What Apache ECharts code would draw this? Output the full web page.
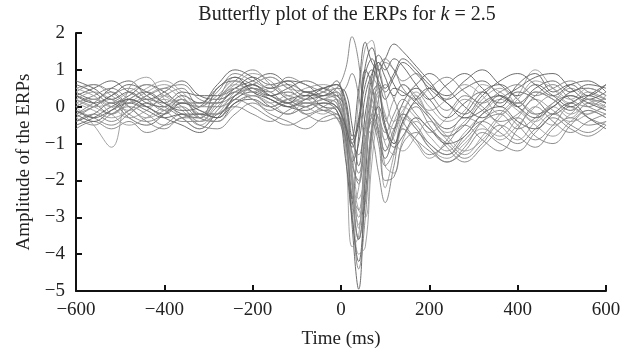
<!DOCTYPE html>
<html>
<head>
<meta charset="utf-8">
<script src="https://cdn.jsdelivr.net/npm/echarts@6/dist/echarts.min.js"></script>
<style>
  html, body { margin: 0; padding: 0; background: #fff; }
  #chart { width: 639px; height: 354px; }
</style>
</head>
<body>
<div id="chart"></div>
<script>
// time points (ms), denser around the response
const times = [-600, -560, -520, -480, -440, -400, -360, -320, -280, -240, -200, -160, -120, -80, -40, -10,
  10, 25, 40, 55, 70, 85, 100, 120, 140, 170, 200, 240, 280, 320, 360, 400, 440, 480, 520, 560, 600];

const xTicks = [-600, -400, -200, 0, 200, 400, 600];
const yTicks = [-5, -4, -3, -2, -1, 0, 1, 2];

// one array per channel
const ch01 = [0.3, 0.1, -0.2, 0.2, 0.4, 0.1, -0.2, -0.3, 0.5, 0.7, 0.5, 0.3, 0.4, 0.2, 0.3, 0.4, -0.5, -3.2, -4.95, -2.0, 0.3, 0.6, 0.2, 0.5, 0.4, 0.1, -0.3, -0.8, -0.5, 0.1, 0.3, 0.0, 0.4, 0.2, -0.1, 0.2, 0.1];
const ch02 = [-0.2, 0.0, 0.3, 0.5, 0.2, -0.1, 0.0, -0.3, 0.2, 0.8, 0.6, 0.4, 0.1, 0.3, 0.5, 0.2, -0.8, -2.8, -4.4, -3.0, -0.5, 0.4, -0.3, -0.6, -0.2, -0.5, -1.0, -1.3, -0.9, -0.4, -0.2, -0.6, -0.3, 0.1, 0.3, 0.0, -0.2];
const ch03 = [0.5, 0.6, 0.3, 0.0, -0.3, -0.1, 0.2, -0.1, -0.2, 0.3, 0.6, 0.8, 0.5, 0.4, 0.2, 0.1, -1.2, -3.8, -3.5, -1.2, 0.2, -0.4, -1.2, -0.8, -0.3, -0.6, -1.1, -1.4, -1.0, -0.6, -0.8, -0.3, 0.2, -0.1, -0.4, -0.2, 0.0];
const ch04 = [-0.4, -0.2, 0.1, -0.3, -0.5, -0.2, 0.2, -0.3, -0.4, 0.1, 0.3, 0.0, -0.2, 0.0, 0.1, -0.1, -0.9, -2.5, -3.6, -1.8, 0.4, 1.2, 0.8, 0.3, 0.6, 0.2, -0.2, -0.6, -0.2, 0.4, 0.6, 0.2, -0.2, 0.0, 0.4, 0.5, 0.3];
const ch05 = [0.1, 0.3, 0.5, 0.2, 0.0, 0.3, 0.5, 0.0, 0.4, 0.9, 0.7, 0.5, 0.6, 0.4, 0.3, 0.5, 1.0, 1.9, 1.2, -0.5, -0.8, -1.8, -2.6, -1.6, -0.6, -0.9, -1.2, -1.5, -1.1, -0.4, -0.1, -0.5, -0.9, -0.5, 0.0, -0.3, -0.5];
const ch06 = [0.2, 0.0, -0.2, 0.1, 0.4, 0.6, 0.3, -0.2, 0.2, 0.6, 0.9, 0.7, 0.3, 0.5, 0.6, 0.4, -0.6, -1.5, 0.2, 1.6, 1.8, 0.2, -2.2, -1.3, -0.2, 0.3, -0.3, -0.9, -1.3, -0.8, -0.2, 0.3, 1.0, 0.5, 0.1, 0.4, 0.2];
const ch07 = [0.4, 0.2, 0.5, 0.7, 0.3, 0.1, 0.4, 0.3, 0.3, 0.5, 0.8, 0.6, 0.7, 0.4, 0.5, 0.6, 0.2, -0.8, 0.5, 1.75, 1.2, 1.0, 1.3, 1.7, 1.5, 1.1, 0.7, 0.2, 0.5, 0.7, 0.3, 0.1, 0.5, 0.7, 0.4, 0.6, 0.5];
const ch08 = [-0.1, -0.3, -0.5, -0.2, 0.1, -0.1, -0.4, -0.4, 0.0, 0.4, 0.2, -0.1, 0.1, -0.2, 0.0, 0.2, -0.4, -1.5, -2.1, -0.6, 0.6, 1.1, 1.3, 1.0, 0.7, 0.9, 0.4, -0.1, 0.3, 0.0, -0.4, -0.2, 0.3, 0.6, 0.2, 0.0, 0.3];
const ch09 = [0.0, 0.2, 0.0, -0.3, -0.1, 0.2, -0.1, -0.5, -0.1, 0.3, 0.5, 0.2, 0.0, 0.2, -0.1, 0.0, -0.6, -1.8, -2.8, -3.0, -1.0, -0.2, -1.6, -1.8, -0.9, -0.4, -0.8, -1.2, -0.7, -0.2, 0.2, -0.1, -0.5, -0.8, -0.4, -0.1, -0.3];
const ch10 = [0.6, 0.4, 0.1, 0.3, 0.6, 0.4, 0.1, 0.1, 0.1, 0.5, 0.7, 0.9, 0.6, 0.3, 0.4, 0.7, -0.5, -2.5, -0.8, 1.0, 0.6, -0.7, -1.4, -0.7, 0.1, 0.5, 0.2, -0.3, 0.1, 0.4, 0.0, 0.6, 0.9, 0.4, 0.6, 0.3, 0.6];
const ch11 = [-0.3, -0.5, -0.2, 0.0, -0.2, -0.5, -0.3, -0.2, -0.2, 0.2, 0.0, -0.3, -0.5, -0.3, -0.1, -0.2, -0.5, -1.0, -1.3, -0.5, 0.0, -0.3, -0.7, -0.2, 0.2, -0.2, -0.6, -1.0, -1.4, -1.0, -0.5, -0.8, -1.1, -0.6, -0.3, -0.5, -0.4];
const ch12 = [0.2, 0.4, 0.2, -0.1, 0.1, 0.3, 0.0, -0.4, 0.1, 0.6, 0.4, 0.1, 0.3, 0.1, 0.2, 0.3, -0.3, -2.0, -4.0, -3.8, -1.5, -0.5, -0.9, -0.4, 0.0, -0.3, -0.7, -0.3, 0.2, -0.1, -0.5, -0.9, -0.4, 0.0, -0.3, 0.1, 0.0];
const ch13 = [-0.5, -0.3, 0.0, 0.2, 0.0, -0.3, -0.5, -0.7, -0.3, 0.2, 0.4, 0.2, 0.0, -0.1, 0.1, 0.0, -0.6, -1.5, -1.0, 0.3, 0.9, 1.2, 1.0, 1.3, 1.1, 0.6, 0.2, 0.6, 0.9, 0.5, 0.1, 0.4, 0.2, -0.2, 0.1, 0.3, 0.1];
const ch14 = [-0.6, -0.4, -0.6, -0.4, -0.7, -0.5, -0.2, -0.5, -0.6, -0.2, 0.1, -0.2, -0.4, -0.6, -0.3, -0.2, -1.0, -2.4, -2.8, -1.2, -0.4, -1.0, -2.0, -1.9, -1.0, -0.7, -1.1, -1.5, -1.2, -0.7, -1.0, -1.2, -0.7, -0.3, -0.6, -0.8, -0.5];
const ch15 = [0.0, -0.5, -1.1, 0.5, 0.8, 0.2, -0.3, -0.6, -0.1, 0.5, 0.3, 0.5, 0.2, 0.0, 0.2, 0.1, -0.7, -2.2, -3.2, -1.5, 0.1, 0.5, -0.5, -1.0, -0.5, 0.1, -0.2, -0.7, -0.4, 0.2, 0.5, 0.0, -0.4, 0.1, 0.5, 0.2, -0.1];
const ch16 = [0.3, 0.5, 0.7, 0.4, 0.2, 0.4, 0.7, 0.3, 0.2, 0.4, 0.6, 0.3, 0.5, 0.7, 0.5, 0.3, 0.0, -0.9, -0.4, 0.6, 1.0, 0.7, 0.4, 0.8, 1.2, 0.9, 0.5, 0.1, -0.2, 0.3, 0.7, 0.9, 0.6, 0.3, 0.6, 0.7, 0.4];
const ch17 = [-0.2, 0.1, 0.4, 0.0, -0.4, -0.6, -0.3, -0.3, 0.2, 0.7, 1.0, 0.6, 0.2, 0.0, 0.3, 0.2, -0.4, -2.0, -3.6, -2.6, -0.8, 0.2, 0.6, 0.2, -0.4, -0.9, -1.3, -1.0, -0.5, -0.9, -1.2, -0.6, 0.0, -0.4, -0.7, -0.4, -0.2];
const ch18 = [0.1, -0.1, -0.3, -0.1, 0.3, 0.5, 0.2, -0.2, -0.4, 0.0, 0.3, 0.1, -0.2, 0.1, 0.0, -0.3, -1.0, -2.8, -2.2, -0.6, 0.5, -0.1, -1.0, -1.3, -0.6, -1.0, -1.4, -0.9, -0.3, -0.5, -0.9, -0.5, 0.0, 0.3, 0.0, -0.2, 0.1];
const ch19 = [0.7, 0.5, 0.2, 0.4, 0.1, 0.0, 0.3, 0.1, 0.6, 1.0, 0.8, 0.5, 0.7, 0.6, 0.3, 0.5, 0.4, -0.5, -1.6, -0.2, 0.8, 1.4, 1.1, 0.6, 0.3, 0.6, 0.9, 0.5, 0.0, -0.3, 0.2, 0.5, 0.8, 0.9, 0.5, 0.2, 0.4];
const ch20 = [-0.3, 0.0, 0.2, -0.2, -0.4, -0.2, 0.1, 0.0, 0.0, 0.2, 0.5, 0.3, 0.1, -0.2, -0.4, -0.3, -0.6, -1.2, -1.8, -0.9, -0.3, -0.8, -1.6, -1.2, -0.4, 0.0, -0.5, -1.1, -1.5, -1.1, -0.6, -0.3, -0.8, -1.0, -0.5, -0.1, -0.3];
const ch21 = [0.2, 0.0, 0.1, 0.4, 0.6, 0.3, 0.0, -0.4, -0.2, 0.4, 0.6, 0.8, 0.5, 0.2, 0.4, 0.5, -0.2, -1.9, -3.0, -1.6, 0.4, 1.0, 0.3, -0.4, -0.1, 0.4, 0.0, -0.4, -0.1, 0.6, 0.4, 0.1, 0.4, 0.2, -0.2, 0.1, 0.2];
const ch22 = [-0.1, -0.3, -0.1, 0.1, -0.1, -0.3, -0.2, -0.2, -0.3, 0.1, 0.2, 0.0, 0.2, 0.3, 0.0, -0.1, -1.4, -3.0, -4.2, -2.4, -0.6, 0.0, -0.6, -1.1, -0.8, -0.3, -0.6, -1.0, -0.8, -0.2, 0.0, -0.4, -0.6, -0.2, 0.1, -0.3, -0.6];
const ch23 = [0.4, 0.6, 0.4, 0.1, 0.3, 0.5, 0.6, 0.2, 0.1, 0.3, 0.5, 0.4, 0.8, 0.6, 0.4, 0.3, 0.5, 0.9, 0.3, -0.8, -0.2, 0.8, 1.2, 1.0, 0.5, 0.2, 0.5, 0.8, 0.4, 0.1, 0.4, 0.6, 0.3, 0.5, 0.7, 0.4, 0.2];
const ch24 = [0.0, 0.2, -0.2, -0.5, -0.3, 0.0, 0.2, -0.3, 0.2, 0.5, 0.2, 0.0, 0.2, 0.0, -0.2, 0.0, -0.3, -1.3, -2.5, -1.9, -0.5, 0.3, -0.2, -0.9, -1.2, -0.8, -0.4, -0.8, -1.2, -0.9, -0.3, 0.1, -0.2, -0.5, -0.2, 0.2, 0.0];
const ch25 = [0.3, 0.1, 0.3, 0.6, 0.4, 0.1, -0.1, 0.0, 0.5, 0.8, 0.4, 0.2, 0.0, 0.2, 0.5, 0.6, 0.1, -1.0, -0.5, 1.1, 1.6, 1.0, 0.5, 0.9, 1.3, 1.0, 0.6, 0.3, 0.7, 1.0, 0.6, 0.3, 0.6, 0.3, 0.0, 0.3, 0.6];
const ch26 = [-0.4, -0.2, -0.4, -0.1, 0.2, 0.0, -0.3, -0.6, -0.2, 0.0, -0.2, -0.4, -0.1, 0.1, -0.1, -0.3, -0.8, -1.6, -2.0, -1.0, -0.2, -0.6, -1.2, -0.6, -0.2, -0.6, -1.0, -1.3, -0.8, -0.4, -0.7, -1.0, -0.6, -0.2, -0.5, -0.7, -0.4];
const ch27 = [0.5, 0.3, 0.0, 0.2, 0.5, 0.7, 0.4, 0.0, 0.3, 0.7, 0.4, 0.6, 0.3, 0.1, 0.2, 0.4, 0.0, -1.7, -3.3, -1.2, 0.8, 0.5, -0.4, 0.2, 0.6, 0.3, -0.1, 0.2, 0.6, 0.3, -0.2, 0.2, 0.7, 0.5, 0.2, 0.5, 0.3];
const ch28 = [-0.2, -0.4, -0.1, 0.2, 0.0, -0.2, 0.1, -0.1, -0.3, 0.3, 0.6, 0.3, 0.1, 0.4, 0.2, 0.0, -0.5, -1.1, -0.3, 0.9, 1.3, 0.6, -0.5, -1.0, -0.4, 0.2, 0.5, 0.1, -0.3, -0.1, 0.3, 0.0, -0.3, 0.0, 0.3, 0.1, -0.1];

const channels = [ch01, ch02, ch03, ch04, ch05, ch06, ch07, ch08, ch09, ch10, ch11, ch12, ch13, ch14,
  ch15, ch16, ch17, ch18, ch19, ch20, ch21, ch22, ch23, ch24, ch25, ch26, ch27, ch28];

const chart = echarts.init(document.getElementById('chart'), null, { renderer: 'canvas' });

const serif = '"Liberation Serif", "DejaVu Serif", serif';
const minus = v => String(v).replace('-', '\u2212');
const grays = ['#5e5e5e', '#808080', '#9a9a9a'];

const option = {
  animation: false,
  backgroundColor: '#fff',
  title: {
    text: '{a|Butterfly plot of the ERPs for }{k|k}{a| = 2.5}',
    left: 342,
    textAlign: 'center',
    top: 0,
    textStyle: {
      rich: {
        a: { fontFamily: serif, fontSize: 20, fontWeight: 'normal', color: '#222' },
        k: { fontFamily: serif, fontSize: 20, fontWeight: 'normal', fontStyle: 'italic', color: '#222' }
      }
    }
  },
  grid: { left: 76, right: 33, top: 33, bottom: 63 },
  xAxis: {
    type: 'value',
    min: -600,
    max: 600,
    interval: 200,
    name: 'Time (ms)',
    nameLocation: 'middle',
    nameGap: 39,
    nameTextStyle: { fontFamily: serif, fontSize: 19, color: '#222' },
    axisLine: { onZero: false, lineStyle: { color: '#111', width: 2 } },
    axisTick: { inside: true, length: 6, lineStyle: { color: '#111', width: 2 } },
    axisLabel: {
      fontFamily: serif, fontSize: 19, color: '#222', margin: 10,
      formatter: v => xTicks.includes(v) ? minus(v) : ''
    },
    splitLine: { show: false }
  },
  yAxis: {
    type: 'value',
    min: -5,
    max: 2,
    interval: 1,
    name: 'Amplitude of the ERPs',
    nameLocation: 'middle',
    nameGap: 42,
    nameTextStyle: { fontFamily: serif, fontSize: 19, color: '#222' },
    axisLine: { onZero: false, lineStyle: { color: '#111', width: 2 } },
    axisTick: { inside: true, length: 6, lineStyle: { color: '#111', width: 2 } },
    axisLabel: {
      fontFamily: serif, fontSize: 19, color: '#222', margin: 11,
      formatter: v => yTicks.includes(v) ? minus(v) : ''
    },
    splitLine: { show: false }
  },
  series: channels.map((vals, i) => ({
    name: 'ch' + (i + 1),
    type: 'line',
    smooth: 0.4,
    showSymbol: false,
    silent: true,
    lineStyle: { color: grays[i % 3], width: 0.9 },
    data: times.map((t, j) => [t, vals[j]])
  }))
};

chart.setOption(option);
</script>
</body>
</html>
